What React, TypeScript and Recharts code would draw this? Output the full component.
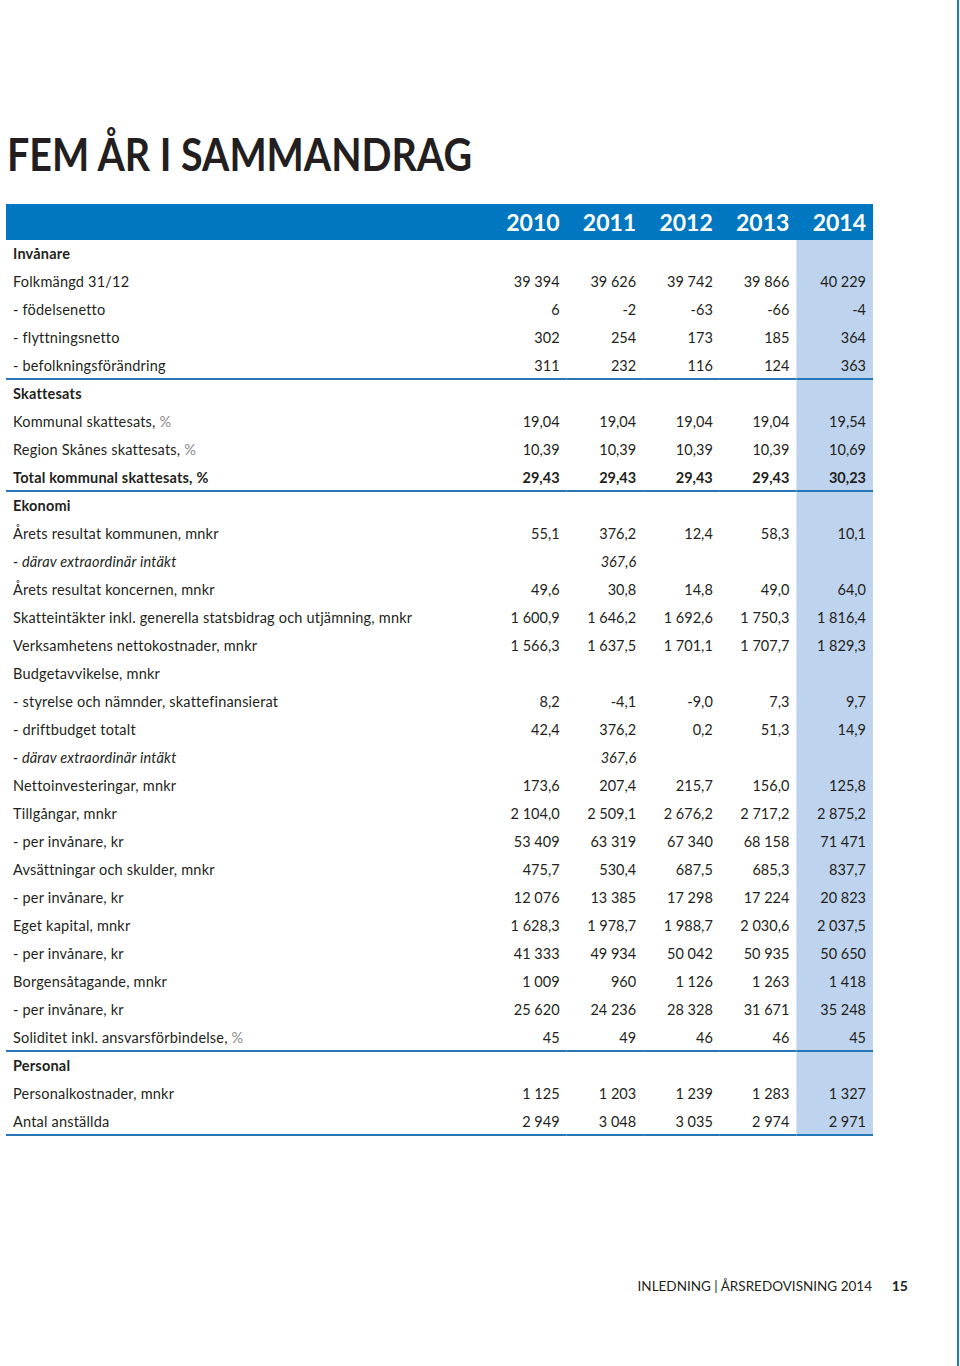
import React from 'react';
import { ScatterChart, Scatter, XAxis, YAxis } from 'recharts';

const years = ['2010', '2011', '2012', '2013', '2014'];

const rowLabels = [
  'Invånare',
  'Folkmängd 31/12',
  '- födelsenetto',
  '- flyttningsnetto',
  '- befolkningsförändring',
  'Skattesats',
  'Kommunal skattesats, %',
  'Region Skånes skattesats, %',
  'Total kommunal skattesats, %',
  'Ekonomi',
  'Årets resultat kommunen, mnkr',
  '- därav extraordinär intäkt',
  'Årets resultat koncernen, mnkr',
  'Skatteintäkter inkl. generella statsbidrag och utjämning, mnkr',
  'Verksamhetens nettokostnader, mnkr',
  'Budgetavvikelse, mnkr',
  '- styrelse och nämnder, skattefinansierat',
  '- driftbudget totalt',
  '- därav extraordinär intäkt',
  'Nettoinvesteringar, mnkr',
  'Tillgångar, mnkr',
  '- per invånare, kr',
  'Avsättningar och skulder, mnkr',
  '- per invånare, kr',
  'Eget kapital, mnkr',
  '- per invånare, kr',
  'Borgensåtagande, mnkr',
  '- per invånare, kr',
  'Soliditet inkl. ansvarsförbindelse, %',
  'Personal',
  'Personalkostnader, mnkr',
  'Antal anställda',
];

// h = section heading, b = bold row, i = italic row, n = normal
const rowKinds = [
  'h', 'n', 'n', 'n', 'n',
  'h', 'n', 'n', 'b',
  'h', 'n', 'i', 'n', 'n', 'n', 'n', 'n', 'n', 'i', 'n', 'n', 'n', 'n', 'n', 'n', 'n', 'n', 'n', 'n',
  'h', 'n', 'n',
];

const rowDecimals = [
  0, 0, 0, 0, 0,
  0, 2, 2, 2,
  0, 1, 1, 1, 1, 1, 0, 1, 1, 1, 1, 1, 0, 1, 0, 1, 0, 0, 0, 0,
  0, 0, 0,
];

const sectionEndRows = [4, 8, 28, 31];

const v2010 = [null, 39394, 6, 302, 311, null, 19.04, 10.39, 29.43, null, 55.1, null, 49.6, 1600.9, 1566.3, null, 8.2, 42.4, null, 173.6, 2104.0, 53409, 475.7, 12076, 1628.3, 41333, 1009, 25620, 45, null, 1125, 2949];
const v2011 = [null, 39626, -2, 254, 232, null, 19.04, 10.39, 29.43, null, 376.2, 367.6, 30.8, 1646.2, 1637.5, null, -4.1, 376.2, 367.6, 207.4, 2509.1, 63319, 530.4, 13385, 1978.7, 49934, 960, 24236, 49, null, 1203, 3048];
const v2012 = [null, 39742, -63, 173, 116, null, 19.04, 10.39, 29.43, null, 12.4, null, 14.8, 1692.6, 1701.1, null, -9.0, 0.2, null, 215.7, 2676.2, 67340, 687.5, 17298, 1988.7, 50042, 1126, 28328, 46, null, 1239, 3035];
const v2013 = [null, 39866, -66, 185, 124, null, 19.04, 10.39, 29.43, null, 58.3, null, 49.0, 1750.3, 1707.7, null, 7.3, 51.3, null, 156.0, 2717.2, 68158, 685.3, 17224, 2030.6, 50935, 1263, 31671, 46, null, 1283, 2974];
const v2014 = [null, 40229, -4, 364, 363, null, 19.54, 10.69, 30.23, null, 10.1, null, 64.0, 1816.4, 1829.3, null, 9.7, 14.9, null, 125.8, 2875.2, 71471, 837.7, 20823, 2037.5, 50650, 1418, 35248, 45, null, 1327, 2971];

const seriesByYear: (number | null)[][] = [v2010, v2011, v2012, v2013, v2014];

type CellDatum = { id: string; year: string; row: number; col: number; value: number | null };

const cells: CellDatum[] = [];
rowLabels.forEach((_, r) => {
  years.forEach((y, c) => {
    cells.push({ id: 'r' + r, year: y, row: r, col: c, value: seriesByYear[c][r] });
  });
});

const FONT = 'Lato, "Open Sans", sans-serif';
const TEXT = '#231f20';
const BLUE = '#0077c0';
const LINE = '#2676b8';
const LIGHT = '#bed3ee';
const BW = 76.6;
const RH = 28;
const FS = 14.5;

function fmt(v: number, d: number): string {
  const neg = v < 0;
  const s = Math.abs(v).toFixed(d);
  const [ip, dp] = s.split('.');
  let g = '';
  for (let i = 0; i < ip.length; i++) {
    if (i > 0 && (ip.length - i) % 3 === 0) g += ' ';
    g += ip[i];
  }
  return (neg ? '-' : '') + g + (dp ? ',' + dp : '');
}

function ValueCell(props: any) {
  const { cx, cy, payload } = props;
  if (cx == null || cy == null || !payload) return null;
  const { row, col, value } = payload as CellDatum;
  const kind = rowKinds[row];
  const isLast = col === years.length - 1;
  const isEnd = sectionEndRows.includes(row);
  return (
    <g>
      {isLast && <rect x={cx - BW / 2} y={cy - RH / 2} width={BW} height={RH} fill={LIGHT} />}
      {isEnd && <rect x={cx - BW / 2} y={cy + RH / 2 - 2} width={BW} height={2} fill={LINE} />}
      {value != null && (
        <text
          x={cx + BW / 2 - 7}
          y={cy}
          dy="0.36em"
          textAnchor="end"
          fontFamily={FONT}
          fontSize={FS}
          fill={TEXT}
          fontWeight={kind === 'b' ? 700 : 400}
          fontStyle={kind === 'i' ? 'italic' : 'normal'}
        >
          {fmt(value, rowDecimals[row])}
        </text>
      )}
    </g>
  );
}

function RowTick(props: any) {
  const { y, payload } = props;
  const r = parseInt(String(payload.value).slice(1), 10);
  const label = rowLabels[r];
  const kind = rowKinds[r];
  const isEnd = sectionEndRows.includes(r);
  const grayPct = kind === 'n' && label.endsWith('%');
  const main = grayPct ? label.slice(0, -1) : label;
  return (
    <g>
      <text
        x={13}
        y={y}
        dy="0.36em"
        textAnchor="start"
        fontFamily={FONT}
        fontSize={FS}
        letterSpacing={0.2}
        fill={TEXT}
        fontWeight={kind === 'h' || kind === 'b' ? 700 : 400}
        fontStyle={kind === 'i' ? 'italic' : 'normal'}
      >
        {main}
        {grayPct && <tspan fill="#8a8a8a">%</tspan>}
      </text>
      {isEnd && <rect x={6} y={y + RH / 2 - 2} width={484} height={2} fill={LINE} />}
    </g>
  );
}

function YearTick(props: any) {
  const { x, y, payload } = props;
  return (
    <text
      x={x + BW / 2 - 7}
      y={y - 9}
      textAnchor="end"
      fontFamily={FONT}
      fontSize={23}
      fontWeight={700}
      fill="#ffffff"
    >
      {payload.value}
    </text>
  );
}

export default function App() {
  return (
    <div style={{ position: 'absolute', left: 0, top: 0, width: 960, height: 1366, background: '#fff' }}>
      <svg width={960} height={1366} style={{ position: 'absolute', left: 0, top: 0 }}>
        <text
          x={7}
          y={171}
          fontFamily={FONT}
          fontSize={45}
          fontWeight={700}
          fill={TEXT}
          textLength={465}
          lengthAdjust="spacingAndGlyphs"
        >
          FEM ÅR I SAMMANDRAG
        </text>
        <rect x={6} y={204} width={867} height={36} fill={BLUE} />
        <text x={872} y={1291} textAnchor="end" fontFamily={FONT} fontSize={13.5} fill={TEXT}>
          INLEDNING | ÅRSREDOVISNING 2014
        </text>
        <text x={908} y={1291} textAnchor="end" fontFamily={FONT} fontSize={14} fontWeight={700} fill={TEXT}>
          15
        </text>
        <rect x={957} y={0} width={2} height={1366} fill="#1b7cc4" />
      </svg>
      <div style={{ position: 'absolute', left: 0, top: 0 }}>
        <ScatterChart width={960} height={1366} margin={{ top: 210, right: 87, bottom: 230, left: 0 }}>
          <XAxis
            xAxisId="x"
            dataKey="year"
            type="category"
            orientation="top"
            allowDuplicatedCategory={false}
            height={30}
            axisLine={false}
            tickLine={false}
            tickSize={0}
            tickMargin={0}
            interval={0}
            tick={<YearTick />}
          />
          <YAxis
            yAxisId="y"
            dataKey="id"
            type="category"
            allowDuplicatedCategory={false}
            reversed
            width={490}
            axisLine={false}
            tickLine={false}
            interval={0}
            tick={<RowTick />}
          />
          <Scatter
            xAxisId="x"
            yAxisId="y"
            data={cells}
            shape={<ValueCell />}
            isAnimationActive={false}
          />
        </ScatterChart>
      </div>
    </div>
  );
}
